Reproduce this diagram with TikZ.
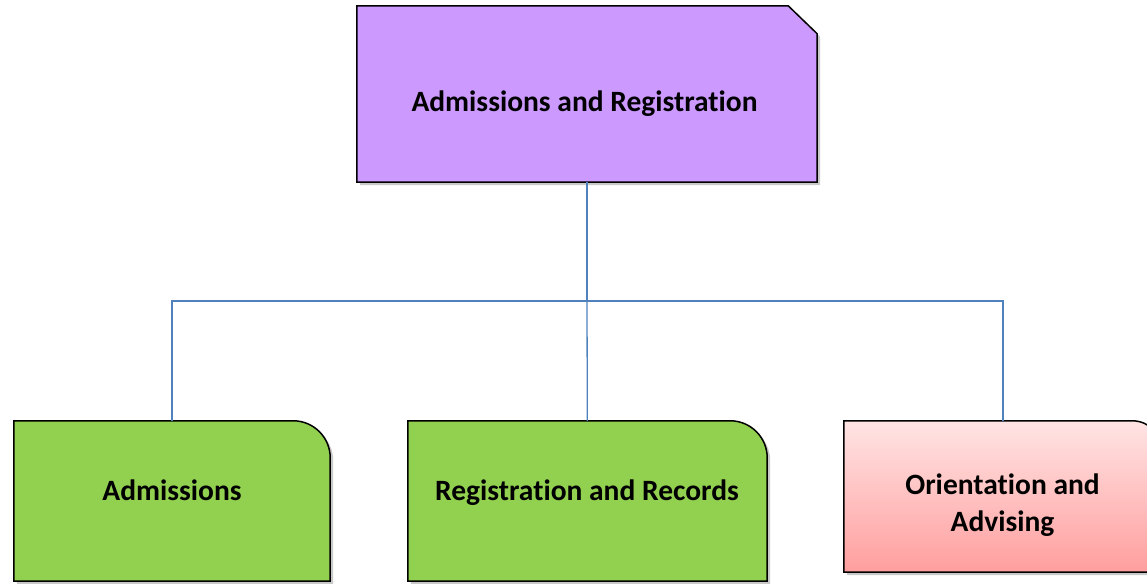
\documentclass[tikz,border=0pt]{standalone}
\usepackage{fontspec}
\setmainfont{Carlito}[Ligatures={CommonOff,ContextualOff}]
\usetikzlibrary{shadows,backgrounds}
\definecolor{headPurple}{RGB}{204,153,255}
\definecolor{unitGreen}{RGB}{146,208,80}
\definecolor{pinkTop}{RGB}{255,228,228}
\definecolor{pinkBottom}{RGB}{255,158,158}
\definecolor{linkBlue}{RGB}{79,129,189}

\begin{document}
\begin{tikzpicture}[x=1pt,y=1pt,
 slot/.style={inner sep=0pt,draw=none},
 card/.style={draw=black,line width=1.5pt,line join=miter,
   drop shadow={shadow xshift=3pt,shadow yshift=-3pt,
     opacity=0.3,fill=black!70}},
 lbl/.style={font=\bfseries\fontsize{29.5}{37}\selectfont,
   align=center,inner sep=0pt},
 link/.style={draw=linkBlue,line width=1.3pt}]
 \clip (0,0) rectangle (1147,583);
 % boxes
 \node[slot,minimum width=460,minimum height=176] (head) at (587,489) {};
 \node[slot,minimum width=316,minimum height=160] (adm) at (172,82) {};
 \node[slot,minimum width=359,minimum height=160] (rec) at (587.5,82) {};
 \node[slot,minimum width=318,minimum height=151] (ori) at (1003,86.5) {};
 \node[lbl,anchor=base] (headtxt) at (584.5,471) {Admissions and Registration};
 \node[lbl,anchor=base] (admtxt) at (172,82) {Admissions};
 \node[lbl,anchor=base] (rectxt) at (587,82) {Registration and Records};
 \node[lbl] (oritxt) at (1002.5,78) {Orientation and\\Advising};
 \begin{scope}[on background layer]
  \path[card,fill=headPurple] (head.south west) -- (head.north west)
   -- ([xshift=-29]head.north east) -- ([yshift=-28]head.north east)
   -- (head.south east) -- cycle;
  \path[card,fill=unitGreen] (adm.south west) -- (adm.north west)
   [rounded corners=37] -- (adm.north east) [sharp corners]
   -- (adm.south east) -- cycle;
  \path[card,fill=unitGreen] (rec.south west) -- (rec.north west)
   [rounded corners=37] -- (rec.north east) [sharp corners]
   -- (rec.south east) -- cycle;
  \path[card,top color=pinkTop,bottom color=pinkBottom]
   (ori.south west) -- (ori.north west)
   [rounded corners=30] -- (ori.north east) [sharp corners]
   -- (ori.south east) -- cycle;
 \end{scope}
 % connectors
 \coordinate (bus) at (587,282);
 \draw[link] (head) -- (bus);
 \draw[link] (adm) |- (bus) -| (ori);
 \draw[link] (bus) -- (rec);
\end{tikzpicture}
\end{document}
